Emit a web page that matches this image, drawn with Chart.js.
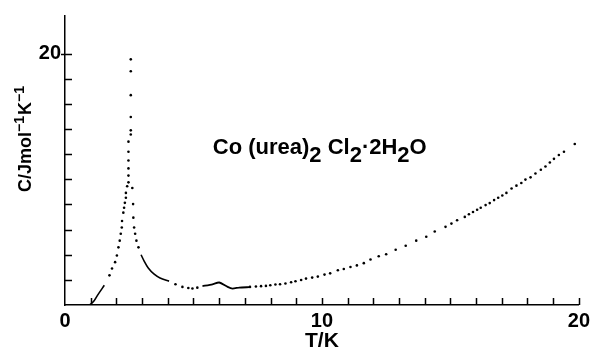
<!DOCTYPE html>
<html><head><meta charset="utf-8">
<script src="https://cdn.jsdelivr.net/npm/chart.js@4"></script>
<style>html,body{margin:0;padding:0;background:#fff}</style>
</head><body>
<canvas id="c" width="594" height="349" style="width:594px;height:349px;display:block"></canvas>
<script>
// ---- data ----
const dotT = [1.73,1.83,1.95,2.02,2.08,2.13,2.17,2.21,2.22,2.27,2.30,2.33,2.37,2.37,2.42,2.47,2.47,2.47,2.47,2.47,2.47,2.56,2.56,2.56,2.56,2.56,2.56,
  2.62,2.65,2.66,2.69,2.73,2.78,2.86,
  4.3,4.57,4.8,4.96,5.15,
  7.2,7.43,7.63,7.82,7.99,8.19,8.37,8.58,8.80,8.97,9.19,9.38,9.62,9.84,10.1,10.32,10.62,10.85,11.11,11.36,11.63,11.89,12.21,12.5,12.87,13.26,13.67,14.06,14.39,14.81,15.04,15.26,15.56,15.72,15.88,16.04,16.18,16.37,16.53,16.7,16.86,17.02,17.18,17.38,17.57,17.76,17.92,18.12,18.31,18.52,18.7,18.87,19.03,19.22,19.42,19.84];
const dotC = [2.36,2.91,3.41,3.94,4.59,5.12,5.67,6.17,6.69,7.35,7.74,8.13,8.53,8.92,9.45,9.76,10.3,10.87,11.5,12.2,13.0,13.57,13.9,14.96,16.7,18.6,19.55,
  9.31,8.03,6.95,6.17,5.67,5.12,4.59,
  1.65,1.44,1.35,1.31,1.38,
  1.44,1.47,1.50,1.52,1.57,1.63,1.65,1.71,1.81,1.89,1.99,2.10,2.18,2.26,2.42,2.52,2.76,2.86,3.02,3.15,3.33,3.62,3.88,4.04,4.4,4.72,5.12,5.43,5.85,6.22,6.48,6.75,7.01,7.22,7.4,7.58,7.74,7.95,8.11,8.35,8.53,8.72,8.92,9.27,9.5,9.71,9.98,10.16,10.47,10.76,11.02,11.34,11.63,11.94,12.2,12.81];
const lowT = [0.95,1.1,1.27,1.53];
const lowC = [0,0.25,0.79,1.57];
const midT = [2.96,3.08,3.24,3.47,3.7,4.05];
const midC = [4.0,3.5,2.95,2.45,2.15,1.9];
const bumpT = [5.35,5.74,6.0,6.33,6.52,6.78,7.17];
const bumpC = [1.5,1.65,1.79,1.44,1.31,1.39,1.42];
const xTickValues = [1,2,3,4,5,6,7,8,9,10,11,12,13,14,15,16,17,18,19,20];
const yTickValues = [2,4,6,8,10,12,14,16,18,20];
const xLabels = [0,10,20];
const yLabels = [20];
const xTitle = 'T/K';
const yTitleParts = [['C/Jmol',0],['\u22121',1],['K',0],['\u22121',1]];
const compoundParts = [['Co (urea)',0],['2',1],[' Cl',0],['2',1],['\u00b72H',0],['2',1],['O',0]];

const toXY = (ts, cs) => ts.map((t, i) => ({x: t, y: cs[i]}));
const FONT = '"Liberation Sans", Arial, Helvetica, sans-serif';

const inkPlugin = {
  id: 'ink',
  afterDraw(chart) {
    const ctx = chart.ctx, xs = chart.scales.x, ys = chart.scales.y;
    const x0 = xs.getPixelForValue(0), y0 = ys.getPixelForValue(0);
    ctx.save();
    ctx.strokeStyle = '#000'; ctx.lineWidth = 1.5;
    ctx.beginPath();
    xTickValues.forEach(v => { const p = Math.round(xs.getPixelForValue(v)) + 0.5; ctx.moveTo(p, y0); ctx.lineTo(p, y0 - 7); });
    yTickValues.forEach(v => { const p = Math.round(ys.getPixelForValue(v)) + 0.5; ctx.moveTo(v === 20 ? x0 - 4 : x0, p); ctx.lineTo(x0 + 7, p); });
    ctx.stroke();
    ctx.fillStyle = '#000';
    // compound annotation
    let x = xs.getPixelForValue(5.75), base = ys.getPixelForValue(12.0);
    ctx.textBaseline = 'alphabetic'; ctx.textAlign = 'left';
    compoundParts.forEach(([s, sub]) => {
      ctx.font = 'bold 22px ' + FONT;
      ctx.fillText(s, x, base + (sub ? 8 : 0));
      x += ctx.measureText(s).width;
    });
    // y axis title, rotated
    ctx.translate(31, 192);
    ctx.rotate(-Math.PI / 2);
    let px = 0;
    yTitleParts.forEach(([s, sup]) => {
      ctx.font = (sup ? 'bold 14px ' : 'bold 18px ') + FONT;
      ctx.fillText(s, px, sup ? -7 : 0);
      px += ctx.measureText(s).width + (sup ? 1 : 0);
    });
    ctx.restore();
  }
};

new Chart(document.getElementById('c'), {
  type: 'scatter',
  data: {
    datasets: [
      {data: toXY(dotT, dotC), pointRadius: 1.3, pointBackgroundColor: '#000', pointBorderWidth: 0, showLine: false},
      {data: toXY(lowT, lowC), showLine: true, borderColor: '#000', borderWidth: 1.6, pointRadius: 0, tension: 0.3},
      {data: toXY(midT, midC), showLine: true, borderColor: '#000', borderWidth: 1.6, pointRadius: 0, tension: 0.3},
      {data: toXY(bumpT, bumpC), showLine: true, borderColor: '#000', borderWidth: 1.8, pointRadius: 0, tension: 0.2}
    ]
  },
  plugins: [inkPlugin],
  options: {
    responsive: false, animation: false,
    layout: {padding: {top: 13, right: 15, bottom: 0, left: 0}},
    plugins: {legend: {display: false}, tooltip: {enabled: false}},
    scales: {
      x: {
        type: 'linear', min: 0, max: 20,
        afterFit: s => { s.height = 44; },
        grid: {display: true, drawOnChartArea: false, drawTicks: false},
        border: {display: true, color: '#000', width: 1.5},
        ticks: {stepSize: 1, autoSkip: false, maxRotation: 0, padding: 4, color: '#000',
          font: {family: FONT, size: 20, weight: 'bold'},
          callback: v => xLabels.includes(v) ? String(v) : ''},
        title: {display: true, text: xTitle, color: '#000', padding: {top: 0, bottom: -3},
          font: {family: FONT, size: 21, weight: 'bold', lineHeight: 1}}
      },
      y: {
        type: 'linear', min: 0, max: 23,
        afterFit: s => { s.width = 65; },
        grid: {display: true, drawOnChartArea: false, drawTicks: false},
        border: {display: true, color: '#000', width: 1.5},
        ticks: {stepSize: 2, autoSkip: false, padding: 4, color: '#000',
          font: {family: FONT, size: 20, weight: 'bold'},
          callback: v => yLabels.includes(v) ? String(v) : ''}
      }
    }
  }
});
</script>
</body></html>
